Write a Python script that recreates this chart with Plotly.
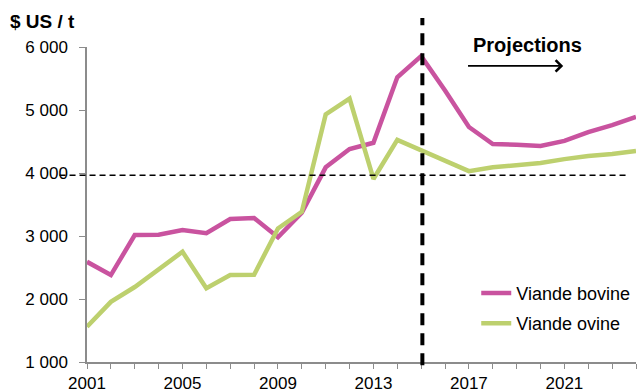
import plotly.graph_objects as go

years = list(range(2001, 2025))
bovine = [2590, 2380, 3015, 3020, 3095, 3045, 3270, 3285, 2980, 3370,
          4090, 4380, 4480, 5520, 5855, 5310, 4730, 4460, 4450, 4430,
          4510, 4650, 4760, 4890]
ovine = [1560, 1955, 2190, 2460, 2750, 2170, 2380, 2385, 3120, 3385,
         4930, 5180, 3905, 4525, 4360, 4210, 4030, 4090, 4130, 4160,
         4220, 4270, 4300, 4350]
ytick_vals = [1000, 2000, 3000, 4000, 5000, 6000]
ytick_text = ["1 000", "2 000", "3 000", "4 000", "5 000", "6 000"]
xlabel_years = [2001, 2005, 2009, 2013, 2017, 2021]
ref_level = 3965
proj_year = 2015.05

FONT = "Liberation Sans, Arial, sans-serif"
MAG = "#C9539F"
GRN = "#BDD06E"

fig = go.Figure()
fig.add_trace(go.Scatter(x=years, y=bovine, mode="lines", name="Viande bovine",
                         line=dict(color=MAG, width=4.5), legendgroup="a"))
fig.add_trace(go.Scatter(x=years, y=ovine, mode="lines", name="Viande ovine",
                         line=dict(color=GRN, width=4.5), legendgroup="b"))

# horizontal dashed reference line
fig.add_shape(type="line", xref="paper", yref="y", x0=-0.05, x1=0.988,
              y0=ref_level, y1=ref_level, line=dict(color="black", width=1.5, dash="6px,4px"))
# vertical dashed line
fig.add_shape(type="line", xref="x", yref="paper", x0=proj_year, x1=proj_year,
              y0=-0.01, y1=1.092, line=dict(color="black", width=4, dash="12px,8px"))

fig.add_annotation(x=2019.47, y=1.006, xref="x", yref="paper", yanchor="middle",
                   text="<b>Projections</b>",
                   showarrow=False, font=dict(family=FONT, size=20, color="black"))
fig.add_annotation(x=2020.95, y=5700, xref="x", yref="y", ax=2016.9, ay=5700,
                   axref="x", ayref="y", text="", showarrow=True, arrowhead=4,
                   arrowsize=1.4, arrowwidth=1.6, arrowcolor="black")
fig.add_annotation(x=-0.143, y=1.08, xref="paper", yref="paper", xanchor="left",
                   yanchor="middle", text="<b>$ US / t</b>", showarrow=False,
                   font=dict(family=FONT, size=19, color="black"))

fig.update_layout(
    width=644, height=390,
    margin=dict(l=87, r=8, t=47, b=28, autoexpand=False),
    paper_bgcolor="white", plot_bgcolor="white",
    font=dict(family=FONT, size=17, color="black"),
    showlegend=True,
    legend=dict(x=0.709, y=0.277, xanchor="left", yanchor="top",
                bgcolor="rgba(0,0,0,0)", font=dict(size=18),
                traceorder="grouped", tracegroupgap=4, itemwidth=30),
    xaxis=dict(range=[2001, 2024], tickmode="array", tickvals=years,
               ticktext=[str(y) if y in xlabel_years else "" for y in years],
               ticks="outside", ticklen=5, tickcolor="#8c8c8c", tickwidth=1.3,
               showline=True, linecolor="#8c8c8c", linewidth=1.5,
               showgrid=False, zeroline=False, tickfont=dict(size=17),
               automargin=False),
    yaxis=dict(range=[1000, 6000], tickmode="array", tickvals=ytick_vals,
               ticktext=ytick_text, ticks="outside", ticklen=6,
               tickcolor="#8c8c8c", tickwidth=1.3,
               showline=True, linecolor="#8c8c8c", linewidth=1.5,
               showgrid=False, zeroline=False, tickfont=dict(size=17),
               ticklabelstandoff=8, automargin=False),
)

fig.write_html("out.html")
